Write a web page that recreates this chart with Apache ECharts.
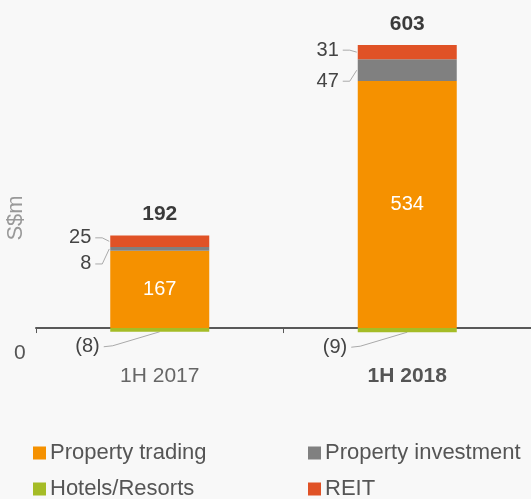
<!DOCTYPE html>
<html>
<head>
<meta charset="utf-8">
<script src="https://cdn.jsdelivr.net/npm/echarts@6/dist/echarts.min.js"></script>
<style>
  html, body { margin: 0; padding: 0; background: #f8f8f8; }
  #chart { width: 531px; height: 499px; }
</style>
</head>
<body>
<div id="chart"></div>
<script>
// values
const categories = ['1H 2017', '1H 2018'];
const propertyTrading = [167, 534];
const propertyInvestment = [8, 47];
const reit = [25, 31];
const hotels = [-8, -9];

const positiveTops = categories.map((c, i) => propertyTrading[i] + propertyInvestment[i] + reit[i]);
const totals = categories.map((c, i) => positiveTops[i] + hotels[i]);

const FONT = "'Liberation Sans', Arial, sans-serif";
const BAR_W = 99;
const colors = {
  trading: '#f59100',
  investment: '#808080',
  hotels: '#a5bc26',
  reit: '#e05226'
};

// vertical nudges of the side callouts (px)
const reitDy = [-3.5, -2];
const invDy = [15, 11];

// side callouts built from the arrays: [category, segment low, segment high]
const sideCallouts = [];
categories.forEach((c, i) => {
  const t = propertyTrading[i];
  const inv = t + propertyInvestment[i];
  sideCallouts.push({ value: [i, t, inv], text: String(propertyInvestment[i]), dy: invDy[i] });
  sideCallouts.push({ value: [i, inv, inv + reit[i]], text: String(reit[i]), dy: reitDy[i] });
});
const hotelCallouts = hotels.map((v, i) => ({ value: [i, v], text: '(' + Math.abs(v) + ')' }));

const chart = echarts.init(document.getElementById('chart'));

function legendAt(left, top, name) {
  return {
    left: left, top: top, padding: 0,
    icon: 'rect', itemWidth: 13, itemHeight: 13, itemGap: 0,
    textStyle: { fontSize: 22, color: '#555', fontFamily: FONT, padding: [0, 0, 0, -1] },
    data: [name]
  };
}

const option = {
  backgroundColor: '#f8f8f8',
  animation: false,
  textStyle: { fontFamily: FONT },
  grid: { left: 36, right: 0, top: 41.3, height: 296 },
  legend: [
    legendAt(33, 442, 'Property trading'),
    legendAt(33, 478, 'Hotels/Resorts'),
    legendAt(308, 442, 'Property investment'),
    legendAt(308, 478, 'REIT')
  ],
  xAxis: {
    type: 'category',
    data: [
      { value: categories[0] },
      { value: categories[1], textStyle: { fontWeight: 'bold', color: '#555' } }
    ],
    axisLine: { onZero: true, lineStyle: { color: '#595959', width: 2 } },
    axisTick: { show: true, length: 5, lineStyle: { color: '#595959' } },
    axisLabel: { margin: 28, fontSize: 21, color: '#666', fontFamily: FONT }
  },
  yAxis: {
    type: 'value',
    min: -20,
    max: 620,
    show: false
  },
  graphic: [
    {
      type: 'text', left: 14, top: 343,
      style: { text: '0', fontSize: 21, fill: '#555', fontFamily: FONT }
    },
    {
      type: 'text', x: 16, y: 218, rotation: Math.PI / 2,
      style: { text: 'S$m', fontSize: 22, fill: '#999', fontFamily: FONT,
               align: 'center', verticalAlign: 'middle' }
    }
  ],
  series: [
    {
      name: 'Property trading', type: 'bar', stack: 'a', barWidth: BAR_W,
      data: propertyTrading,
      itemStyle: { color: colors.trading },
      label: { show: true, position: 'inside', fontSize: 20, color: '#fff', fontFamily: FONT }
    },
    {
      name: 'Property investment', type: 'bar', stack: 'a',
      data: propertyInvestment,
      itemStyle: { color: colors.investment }
    },
    {
      name: 'REIT', type: 'bar', stack: 'a',
      data: reit,
      itemStyle: { color: colors.reit }
    },
    {
      name: 'Hotels/Resorts', type: 'bar', stack: 'a',
      data: hotels,
      itemStyle: { color: colors.hotels }
    },
    {
      // totals above each stack
      name: 'total', type: 'scatter',
      data: positiveTops.map((v, i) => [i, v]),
      symbolSize: 1,
      itemStyle: { color: 'transparent' },
      label: {
        show: true, position: 'top', distance: 10, fontSize: 21,
        fontWeight: 'bold', color: '#0a0a0a', fontFamily: FONT,
        formatter: p => totals[p.dataIndex]
      },
      silent: true
    },
    {
      // callouts left of the small segments
      name: 'side callouts', type: 'custom',
      data: sideCallouts,
      encode: { x: 0, y: [1, 2] },
      renderItem: (params, api) => {
        const item = sideCallouts[params.dataIndex];
        const i = api.value(0);
        const cx = api.coord([i, 0])[0];
        const yMid = api.coord([i, (api.value(1) + api.value(2)) / 2])[1];
        const left = cx - BAR_W / 2;
        const ly = yMid + item.dy;
        return {
          type: 'group',
          children: [
            {
              type: 'polyline',
              shape: { points: [[left - 15, ly], [left - 8, ly], [left - 1, yMid]] },
              style: { stroke: '#aaa', fill: null, lineWidth: 1 }
            },
            {
              type: 'text',
              style: { x: left - 19, y: ly, text: item.text, align: 'right', verticalAlign: 'middle',
                       fontSize: 20, fill: '#444', fontFamily: FONT }
            }
          ]
        };
      },
      silent: true
    },
    {
      // callouts for the negative hotel segments
      name: 'hotel callouts', type: 'custom',
      data: hotelCallouts,
      encode: { x: 0, y: 1 },
      renderItem: (params, api) => {
        const item = hotelCallouts[params.dataIndex];
        const p = api.coord([api.value(0), api.value(1)]);
        const ly = p[1] + 15;
        return {
          type: 'group',
          children: [
            {
              type: 'polyline',
              shape: { points: [[p[0] - 56, ly], [p[0] - 47, ly - 1], [p[0], p[1]]] },
              style: { stroke: '#aaa', fill: null, lineWidth: 1 }
            },
            {
              type: 'text',
              style: { x: p[0] - 60, y: ly, text: item.text, align: 'right', verticalAlign: 'middle',
                       fontSize: 20, fill: '#444', fontFamily: FONT }
            }
          ]
        };
      },
      silent: true
    }
  ]
};

chart.setOption(option);
</script>
</body>
</html>
